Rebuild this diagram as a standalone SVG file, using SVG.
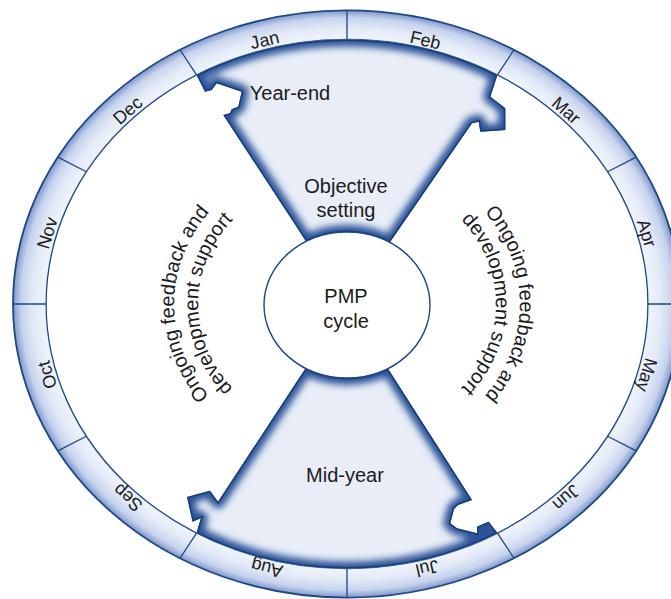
<svg xmlns="http://www.w3.org/2000/svg" width="671" height="599" viewBox="0 0 671 599">
<style>
  text { font-family: "Liberation Sans", Arial, sans-serif; fill: #1b1b1b; }
  .month { font-size: 18px; text-anchor: middle; }
  .label { font-size: 20px; text-anchor: middle; }
  .curve { font-size: 20px; text-anchor: middle; }
  .div { stroke: #1d4785; stroke-width: 1.3; fill: none; }
  .fanfill { fill: #e8edf7; }
  .glow { fill: none; stroke: #2a5298; stroke-width: 14; stroke-linejoin: round; }
  .edge { fill: none; stroke: #163c7a; stroke-width: 3; stroke-linejoin: miter; }
</style>
<defs>
  <radialGradient id="ringGrad" cx="0.5" cy="0.5" r="0.5">
    <stop offset="0.90" stop-color="#f0f4fb"/>
    <stop offset="0.94" stop-color="#e3eaf7"/>
    <stop offset="0.975" stop-color="#c6d3ed"/>
    <stop offset="1" stop-color="#7f97cd"/>
  </radialGradient>
  <filter id="soft" x="-20%" y="-20%" width="140%" height="140%">
    <feGaussianBlur stdDeviation="3.5"/>
  </filter>
  <path id="topFan" d="M306.13 241.46 L223.3 115 L230 113.3 L231.7 109.3 L238.3 106.7 L241.7 91.7 L216.7 83.3 L211.7 90 L205 91.7 L196.55 74.94 A300.9 264.5 0 0 1 497.45 74.94 L490.3 96.7 L505.3 108.3 L505.3 130 L480.3 131.7 L478.7 121.7 L472 123.3 L389.75 242.43 A83 73 0 0 0 306.13 241.46 Z"/>
  <path id="botFan" d="M387.87 368.54 L472 500 L458 505 L454 509 L450.3 523.3 L457 528.3 L477 533.3 L477 526.7 L488.7 521.7 L497.45 533.06 A300.9 264.5 0 0 1 196.55 533.06 L201 518 L192.6 521.7 L187 497 L210 490.7 L218 501.7 L305.62 368.28 A83 73 0 0 0 387.87 368.54 Z"/>
  <clipPath id="clipTop"><use href="#topFan"/></clipPath>
  <clipPath id="clipBot"><use href="#botFan"/></clipPath>
  <path id="arcLeftOuter" d="M260.54 435.6 A172.9 152 0 0 1 260.54 172.4"/>
  <path id="arcLeftInner" d="M272.5 417.4 A149 131 0 0 1 272.5 190.6"/>
  <path id="arcRightOuter" d="M433.46 172.4 A172.9 152 0 0 1 433.46 435.6"/>
  <path id="arcRightInner" d="M421.5 190.6 A149 131 0 0 1 421.5 417.4"/>
</defs>

<rect width="671" height="599" fill="#ffffff"/>

<g id="ring">
  <path d="M13 304 A334 293.6 0 1 1 681 304 A334 293.6 0 1 1 13 304 Z M46.1 304 A300.9 264.5 0 1 0 647.9 304 A300.9 264.5 0 1 0 46.1 304 Z" fill="url(#ringGrad)" fill-rule="evenodd"/>
  <ellipse cx="347" cy="304" rx="334" ry="293.6" fill="none" stroke="#1d4785" stroke-width="1.8"/>
  <ellipse cx="347" cy="304" rx="300.9" ry="264.5" fill="none" stroke="#1d4785" stroke-width="1.3"/>
  <path class="div" d="M347 39.5 L347 10.4 M497.45 74.94 L514 49.74 M607.6 171.75 L636.2 157.2 M647.9 304 L681 304 M607.6 436.25 L636.2 450.8 M497.45 533.06 L514 558.26 M347 568.5 L347 597.6 M196.55 533.06 L180 558.26 M86.4 436.25 L57.8 450.8 M46.1 304 L13 304 M86.4 171.75 L57.8 157.2 M196.55 74.94 L180 49.74"/>
  <text class="month" transform="translate(266 46) rotate(-13.25)">Jan</text>
  <text class="month" transform="translate(424 46) rotate(13.25)">Feb</text>
  <text class="month" transform="translate(562.2 114.9) rotate(41.32)">Mar</text>
  <text class="month" transform="translate(640.9 234.8) rotate(73.05)">Apr</text>
  <text class="month" transform="translate(640.9 373.2) rotate(106.95)">May</text>
  <text class="month" transform="translate(562.2 493.1) rotate(138.68)">Jun</text>
  <text class="month" transform="translate(425.75 562.4) rotate(166.75)">Jul</text>
  <text class="month" transform="translate(268.25 562.4) rotate(193.25)">Aug</text>
  <text class="month" transform="translate(131.8 493.1) rotate(221.32)">Sep</text>
  <text class="month" transform="translate(53.1 373.2) rotate(253.05)">Oct</text>
  <text class="month" transform="translate(53.1 234.8) rotate(286.95)">Nov</text>
  <text class="month" transform="translate(131.8 114.9) rotate(318.68)">Dec</text>
</g>

<g id="objective-setting">
  <use href="#topFan" class="fanfill"/>
  <use href="#topFan" class="glow" filter="url(#soft)" clip-path="url(#clipTop)"/>
  <use href="#topFan" class="edge" clip-path="url(#clipTop)"/>
  <text class="label" x="290" y="100">Year-end</text>
  <text class="label" x="346" y="192.7">Objective</text>
  <text class="label" x="346" y="216.7">setting</text>
</g>

<g id="mid-year">
  <use href="#botFan" class="fanfill"/>
  <use href="#botFan" class="glow" filter="url(#soft)" clip-path="url(#clipBot)"/>
  <use href="#botFan" class="edge" clip-path="url(#clipBot)"/>
  <text class="label" x="345" y="481.7">Mid-year</text>
</g>

<g id="pmp-cycle">
  <ellipse cx="347" cy="305" rx="83" ry="73" fill="#ffffff" stroke="#1d4785" stroke-width="1.4"/>
  <text class="label" x="346" y="303">PMP</text>
  <text class="label" x="346" y="328">cycle</text>
</g>

<g id="feedback-left">
  <text class="curve"><textPath href="#arcLeftOuter" startOffset="50%">Ongoing feedback and</textPath></text>
  <text class="curve"><textPath href="#arcLeftInner" startOffset="50%">development support</textPath></text>
</g>

<g id="feedback-right">
  <text class="curve"><textPath href="#arcRightOuter" startOffset="50%">Ongoing feedback and</textPath></text>
  <text class="curve"><textPath href="#arcRightInner" startOffset="50%">development support</textPath></text>
</g>
</svg>
